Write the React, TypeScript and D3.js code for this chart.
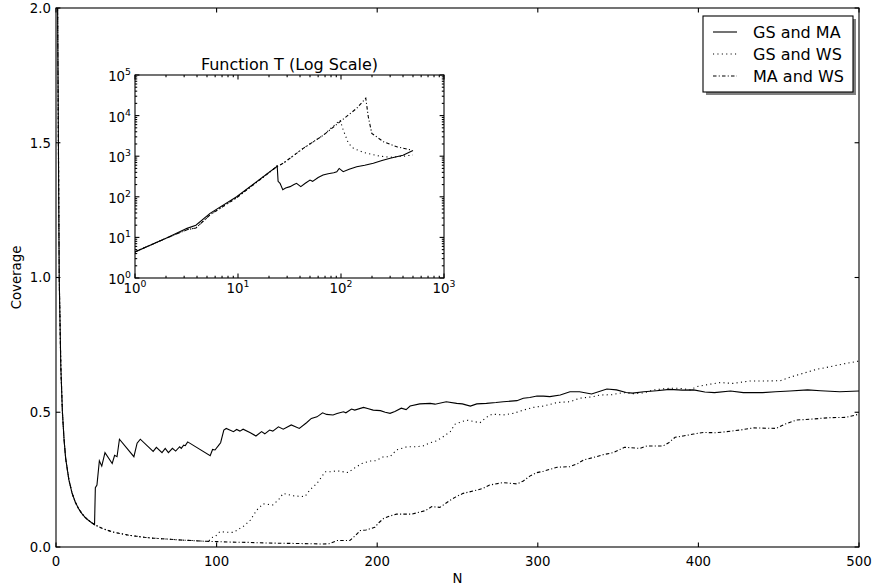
import React from "react";
import * as d3 from "d3";

// ---- main chart: coverage vs N ----
// all three curves share the first stretch up to N = 24
const earlyN = [1, 2, 3, 4, 5, 6, 7, 8, 10, 12, 14, 16, 18, 20, 22, 24];
const earlyCov = [2.0, 1.0, 0.67, 0.5, 0.4, 0.33, 0.29, 0.25, 0.2, 0.167, 0.143, 0.125, 0.111, 0.1, 0.091, 0.083];

const gsMaN = [24.5, 25.5, 27, 28.5, 30.5, 35, 36.5, 38, 39.5, 48.5, 50.5, 52.5, 60.5, 62.5, 66, 68, 70, 72.5, 74.5, 77, 78, 79.5, 80.5, 82,
  96, 97.5, 99, 101, 102.5, 104.5, 106, 110.5, 112.5, 114.5, 116.5, 121, 124.5, 128, 130, 133, 135, 138.5, 141.5, 146.5, 151.5, 156, 159,
  162.5, 166, 168.5, 172.5, 175, 179, 180.5, 184, 186, 191.5, 194, 197.5, 202, 205, 208, 211, 215, 218, 220.5, 226.5, 233, 236, 243, 249.5,
  253, 258, 262, 268, 274, 278.5, 287, 291, 295, 299.5, 303.5, 307.5, 314, 320, 326, 333.5, 343, 349, 355, 359, 366, 374, 382, 390, 397,
  404, 410, 420, 428, 440, 448, 457, 468, 476, 488, 500];
const gsMaCov = [0.22, 0.23, 0.32, 0.3, 0.35, 0.31, 0.34, 0.335, 0.4, 0.335, 0.385, 0.4, 0.355, 0.37, 0.35, 0.366, 0.35, 0.366, 0.356, 0.372, 0.366, 0.378, 0.376, 0.39,
  0.339, 0.362, 0.36, 0.375, 0.387, 0.434, 0.44, 0.428, 0.436, 0.43, 0.437, 0.424, 0.412, 0.428, 0.42, 0.434, 0.43, 0.446, 0.437, 0.453, 0.44, 0.461, 0.477,
  0.483, 0.498, 0.492, 0.49, 0.495, 0.502, 0.498, 0.512, 0.508, 0.518, 0.514, 0.508, 0.506, 0.5, 0.496, 0.503, 0.515, 0.51, 0.523, 0.531, 0.533, 0.53, 0.539, 0.533,
  0.531, 0.523, 0.531, 0.533, 0.536, 0.539, 0.543, 0.552, 0.555, 0.56, 0.56, 0.558, 0.564, 0.576, 0.576, 0.568, 0.586, 0.583, 0.573, 0.571, 0.576, 0.58, 0.585, 0.582, 0.583,
  0.575, 0.573, 0.579, 0.573, 0.573, 0.576, 0.579, 0.583, 0.58, 0.576, 0.579];

// dotted and dash-dot keep falling together after N = 24
const lowN = [28, 32, 36, 40, 45, 50, 55, 60, 65, 70, 75, 80, 85, 90, 95];
const lowCov = [0.071, 0.062, 0.055, 0.05, 0.044, 0.04, 0.036, 0.033, 0.031, 0.029, 0.027, 0.025, 0.024, 0.022, 0.021];

const gsWsN = [97, 99, 102, 106, 110.5, 114.5, 117.5, 121, 125, 129, 135, 138.5, 141.5, 147.5, 155, 158, 162.5, 165.5, 167.5, 171, 175, 182, 185,
  190.5, 195.5, 199, 204, 208, 212, 218.5, 224, 228.5, 233, 237, 241, 245.5, 248.5, 255.5, 260, 264, 268, 271.5, 278.5, 285, 291, 297, 303.5,
  312, 320, 326, 334.5, 338.5, 346, 353, 359.5, 366, 372, 382, 388, 395, 399, 404, 413.5, 421.5, 432, 441, 451, 457, 465, 473.5, 482, 490, 500];
const gsWsCov = [0.035, 0.038, 0.057, 0.055, 0.054, 0.069, 0.08, 0.1, 0.137, 0.16, 0.156, 0.175, 0.199, 0.19, 0.187, 0.211, 0.236, 0.261, 0.279, 0.279, 0.283, 0.276, 0.29,
  0.31, 0.319, 0.32, 0.335, 0.335, 0.36, 0.372, 0.372, 0.375, 0.387, 0.394, 0.409, 0.428, 0.456, 0.471, 0.466, 0.461, 0.481, 0.493, 0.49, 0.496, 0.508, 0.518, 0.523,
  0.536, 0.539, 0.552, 0.558, 0.564, 0.565, 0.573, 0.569, 0.572, 0.583, 0.589, 0.589, 0.583, 0.595, 0.601, 0.61, 0.607, 0.616, 0.616, 0.617, 0.63, 0.644, 0.659, 0.669, 0.679, 0.69];

const maWsN = [100, 110, 120, 130, 140, 150, 160, 166, 170, 175, 183, 186, 189.5, 193, 198.5, 201, 204, 208, 212, 221.5, 230, 234, 239, 245, 249,
  253.5, 262, 266, 270, 278.5, 287, 291, 295, 299.5, 303.5, 312, 320, 325, 328.5, 336.5, 341, 347, 354, 363.5, 368, 378, 381.5, 385.5, 390.5,
  397, 403, 411, 417.5, 426, 434, 448.5, 454, 461, 471.5, 482, 492, 500];
const maWsCov = [0.02, 0.018, 0.017, 0.015, 0.014, 0.013, 0.012, 0.011, 0.012, 0.024, 0.024, 0.04, 0.061, 0.063, 0.073, 0.09, 0.106, 0.115, 0.122, 0.122, 0.135, 0.15, 0.147, 0.172, 0.186,
  0.199, 0.211, 0.218, 0.23, 0.239, 0.234, 0.245, 0.263, 0.276, 0.281, 0.296, 0.298, 0.31, 0.323, 0.335, 0.343, 0.35, 0.37, 0.366, 0.375, 0.375, 0.387, 0.407, 0.412,
  0.419, 0.425, 0.424, 0.428, 0.434, 0.442, 0.44, 0.456, 0.471, 0.475, 0.48, 0.481, 0.493];

// ---- inset: function T on log-log axes ----
const tGsMaN = [1, 2, 3.2, 3.9, 5.35, 9.7, 23.7, 24, 24.5, 25.6, 27.2, 29, 32, 35, 37, 40.7, 45, 50, 53, 60, 67, 75, 85, 91, 96, 105, 120, 142, 170, 206, 250, 300, 400, 500];
const tGsMa = [4.4, 9.5, 16.7, 20, 39, 100, 550, 600, 240, 215, 150, 165, 178, 200, 215, 178, 215, 258, 240, 300, 345, 370, 390, 415, 500, 415, 480, 550, 600, 670, 780, 890, 1050, 1380];
const tGsWsN = [1, 2, 3.2, 3.9, 5.35, 9.7, 23.7, 27.5, 43, 67.5, 98, 105, 118, 132, 166, 240, 300, 400, 500];
const tGsWs = [4.4, 9.5, 15.5, 17, 36, 95, 550, 670, 1560, 3300, 7800, 4450, 2090, 1560, 1230, 1000, 940, 1000, 1070];
const tMaWsN = [1, 2, 3.2, 3.9, 5.35, 9.7, 23.7, 27.5, 43, 67.5, 98, 142, 174, 184, 199, 258, 348, 486];
const tMaWs = [4.4, 9.5, 15.5, 17, 36, 95, 550, 670, 1560, 3300, 7100, 15100, 26800, 9400, 3650, 2280, 1700, 1420];

const seriesNames = ["GS and MA", "GS and WS", "MA and WS"];
const xTicks = [0, 100, 200, 300, 400, 500];
const yTicks = [0, 0.5, 1, 1.5, 2];
const decades = [0, 1, 2, 3, 4, 5];

const zip = (xs: number[], ys: number[]) => xs.map((v, i) => [v, ys[i]] as [number, number]);

const dashes = [undefined, "1.1,3.3", "3.5,2.2,1.1,2.2"];
const font = "DejaVu Sans, sans-serif";

export default function App() {
  const x = d3.scaleLinear().domain([0, 500]).range([56, 859]);
  const y = d3.scaleLinear().domain([0, 2]).range([547, 8]);
  const lx = d3.scaleLog().domain([1, 1000]).range([135, 444]);
  const ly = d3.scaleLog().domain([1, 1e5]).range([278, 75]);

  const line = d3.line<[number, number]>().x(d => x(d[0])).y(d => y(d[1]));
  const lline = d3.line<[number, number]>().x(d => lx(d[0])).y(d => ly(d[1]));

  const early = zip(earlyN, earlyCov);
  const low = zip(lowN, lowCov);
  const mainSeries = [
    [...early, ...zip(gsMaN, gsMaCov)],
    [...early, ...low, ...zip(gsWsN, gsWsCov)],
    [...early, ...low, ...zip(maWsN, maWsCov)],
  ];
  const insetSeries = [zip(tGsMaN, tGsMa), zip(tGsWsN, tGsWs), zip(tMaWsN, tMaWs)];

  const [x0, x1] = x.range();
  const [y0, y1] = y.range();
  const [ix0, ix1] = lx.range();
  const [iy0, iy1] = ly.range();

  const minorX: number[] = [];
  [1, 10, 100].forEach(b => d3.range(2, 10).forEach(m => minorX.push(b * m)));
  const minorY: number[] = [];
  [1, 10, 100, 1000, 10000].forEach(b => d3.range(2, 10).forEach(m => minorY.push(b * m)));

  const sw = 1.1;

  return (
    <svg width={872} height={588} style={{ position: "absolute", left: 0, top: 0 }} fontFamily={font}>
      <rect width={872} height={588} fill="#fff" />
      <defs>
        <clipPath id="mainClip"><rect x={x0} y={y1} width={x1 - x0} height={y0 - y1} /></clipPath>
        <clipPath id="insetClip"><rect x={ix0} y={iy1} width={ix1 - ix0} height={iy0 - iy1} /></clipPath>
      </defs>

      {/* main curves */}
      <g clipPath="url(#mainClip)">
        {mainSeries.map((s, i) => (
          <path key={i} d={line(s) || ""} fill="none" stroke="#000" strokeWidth={sw} strokeDasharray={dashes[i]} />
        ))}
      </g>

      {/* main ticks, inward on all four sides */}
      <g stroke="#000" strokeWidth={sw}>
        {xTicks.map(t => (
          <g key={t}>
            <line x1={x(t)} x2={x(t)} y1={y0} y2={y0 - 4.4} />
            <line x1={x(t)} x2={x(t)} y1={y1} y2={y1 + 4.4} />
          </g>
        ))}
        {yTicks.map(t => (
          <g key={t}>
            <line x1={x0} x2={x0 + 4.4} y1={y(t)} y2={y(t)} />
            <line x1={x1} x2={x1 - 4.4} y1={y(t)} y2={y(t)} />
          </g>
        ))}
      </g>
      <rect x={x0} y={y1} width={x1 - x0} height={y0 - y1} fill="none" stroke="#000" strokeWidth={sw} />

      <g fontSize={13.3} fill="#000">
        {xTicks.map(t => (
          <text key={t} x={x(t)} y={y0 + 19} textAnchor="middle">{d3.format("d")(t)}</text>
        ))}
        {yTicks.map(t => (
          <text key={t} x={x0 - 5} y={y(t) + 4.8} textAnchor="end">{d3.format(".1f")(t)}</text>
        ))}
        <text x={(x0 + x1) / 2} y={583} textAnchor="middle">N</text>
        <text transform={`translate(21,${(y0 + y1) / 2}) rotate(-90)`} textAnchor="middle">Coverage</text>
      </g>

      {/* inset */}
      <rect x={ix0} y={iy1} width={ix1 - ix0} height={iy0 - iy1} fill="#fff" />
      <g clipPath="url(#insetClip)">
        {insetSeries.map((s, i) => (
          <path key={i} d={lline(s) || ""} fill="none" stroke="#000" strokeWidth={sw} strokeDasharray={dashes[i]} />
        ))}
      </g>
      <g stroke="#000" strokeWidth={sw}>
        {[0, 1, 2, 3].map(e => (
          <g key={e}>
            <line x1={lx(10 ** e)} x2={lx(10 ** e)} y1={iy0} y2={iy0 - 4.4} />
            <line x1={lx(10 ** e)} x2={lx(10 ** e)} y1={iy1} y2={iy1 + 4.4} />
          </g>
        ))}
        {minorX.map(v => (
          <g key={v}>
            <line x1={lx(v)} x2={lx(v)} y1={iy0} y2={iy0 - 2.2} />
            <line x1={lx(v)} x2={lx(v)} y1={iy1} y2={iy1 + 2.2} />
          </g>
        ))}
        {decades.map(e => (
          <g key={e}>
            <line x1={ix0} x2={ix0 + 4.4} y1={ly(10 ** e)} y2={ly(10 ** e)} />
            <line x1={ix1} x2={ix1 - 4.4} y1={ly(10 ** e)} y2={ly(10 ** e)} />
          </g>
        ))}
        {minorY.map(v => (
          <g key={v}>
            <line x1={ix0} x2={ix0 + 2.2} y1={ly(v)} y2={ly(v)} />
            <line x1={ix1} x2={ix1 - 2.2} y1={ly(v)} y2={ly(v)} />
          </g>
        ))}
      </g>
      <rect x={ix0} y={iy1} width={ix1 - ix0} height={iy0 - iy1} fill="none" stroke="#000" strokeWidth={sw} />
      <g fontSize={13.3} fill="#000">
        {[0, 1, 2, 3].map(e => (
          <text key={e} x={lx(10 ** e)} y={iy0 + 15} textAnchor="middle">
            10<tspan dy={-6} fontSize={9.3}>{e}</tspan>
          </text>
        ))}
        {decades.map(e => (
          <text key={e} x={ix0 - 4} y={ly(10 ** e) + 6} textAnchor="end">
            10<tspan dy={-6} fontSize={9.3}>{e}</tspan>
          </text>
        ))}
        <text x={(ix0 + ix1) / 2} y={70} textAnchor="middle" fontSize={16}>Function T (Log Scale)</text>
      </g>

      {/* legend with shadow */}
      <rect x={706} y={19} width={150} height={76} fill="#808080" />
      <rect x={703} y={16} width={150} height={76} fill="#fff" stroke="#000" strokeWidth={sw} />
      {seriesNames.map((name, i) => {
        const ry = 32 + i * 22;
        return (
          <g key={name}>
            <line x1={713} x2={737} y1={ry} y2={ry} stroke="#000" strokeWidth={sw} strokeDasharray={dashes[i]} />
            <text x={753} y={ry + 6} fontSize={16} fill="#000">{name}</text>
          </g>
        );
      })}
    </svg>
  );
}
